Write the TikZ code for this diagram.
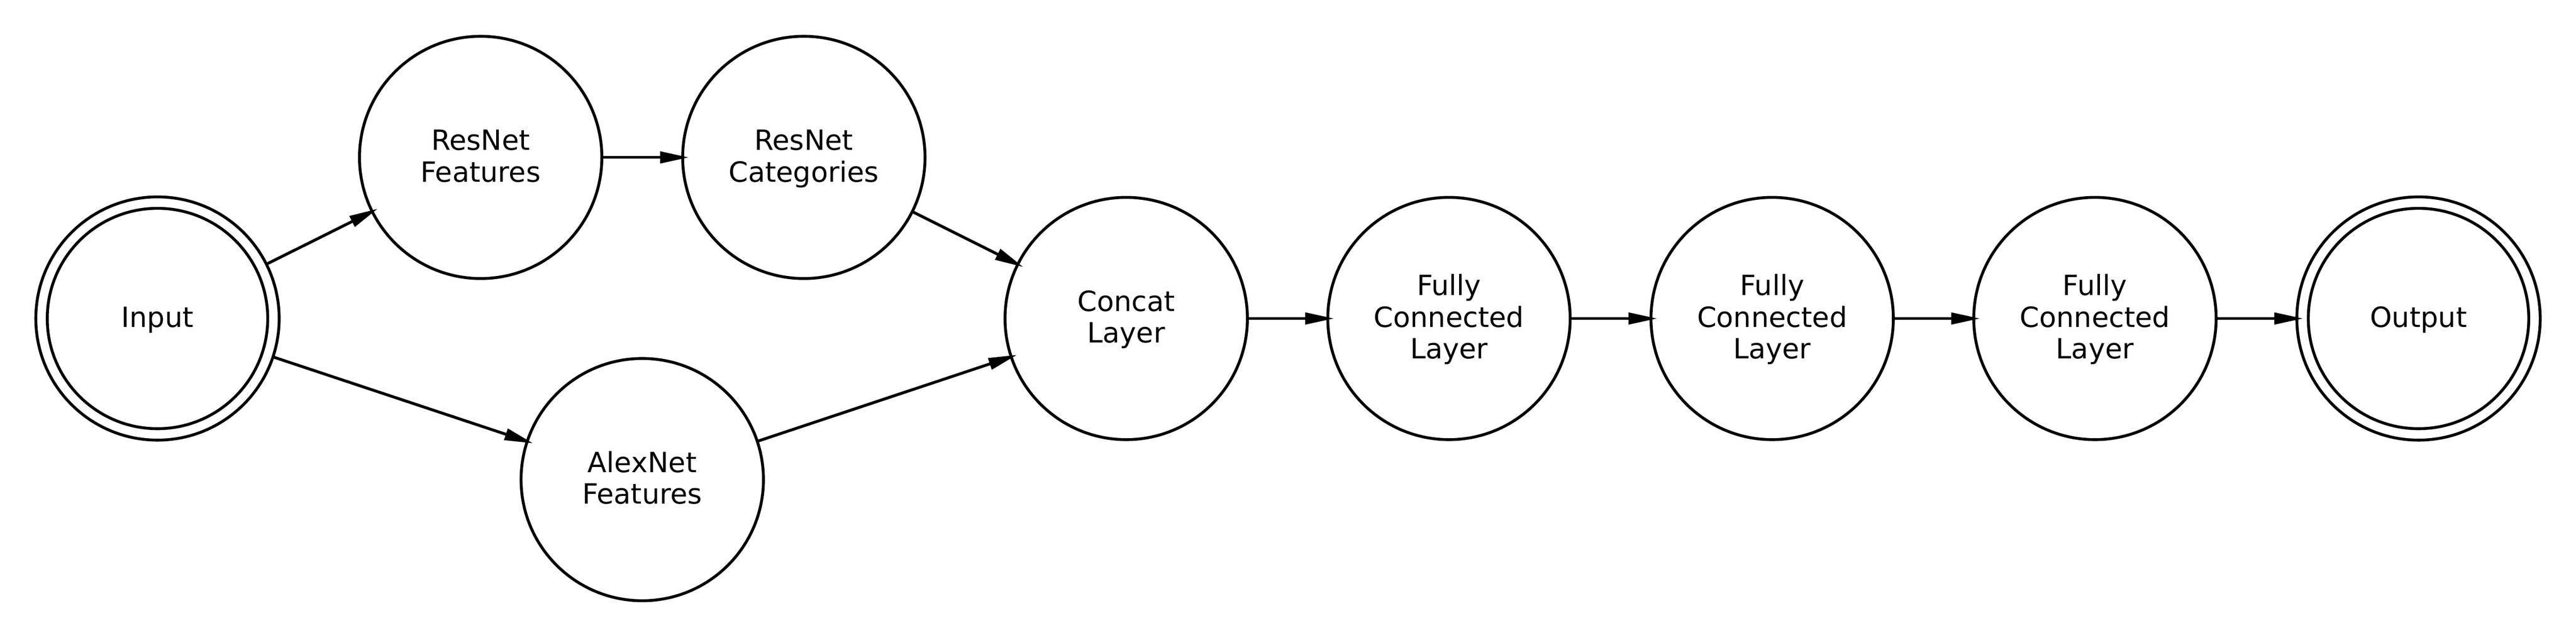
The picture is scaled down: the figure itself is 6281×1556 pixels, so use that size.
\documentclass[tikz,border=0pt]{standalone}
\usepackage{fontspec}
\setmainfont{DejaVu Sans}
\usetikzlibrary{arrows.meta}
\newcommand\gs{\rule[-1.6pt]{0pt}{7.4pt}}
\begin{document}
\begin{tikzpicture}[x=0.1pt,y=-0.1pt,
  nn/.style={circle,draw,line width=0.7pt,minimum size=59.1pt,inner sep=0pt,outer sep=0pt,align=center,font=\fontsize{6.8pt}{7.7pt}\selectfont},
  dn/.style={nn,minimum size=59.34pt},
  inring/.style={draw,line width=0.7pt},
  edge/.style={line width=0.7pt,shorten >=-1.5pt,-{Triangle[length=7pt,width=2.8pt]}}]
\useasboundingbox (0,0) rectangle (6281,1556);
\node[dn] (in) at (384,777) {\gs Input};
\draw[inring] (in.center) circle[radius=26.88pt];
\node[nn] (rf) at (1172,384) {\gs ResNet\\\gs Features};
\node[nn] (rc) at (1960,384) {\gs ResNet\\\gs Categories};
\node[nn] (af) at (1566,1170) {\gs AlexNet\\\gs Features};
\node[nn] (cc) at (2746,777) {\gs Concat\\\gs Layer};
\node[nn] (f1) at (3533,777) {\gs Fully\\\gs Connected\\\gs Layer};
\node[nn] (f2) at (4321,777) {\gs Fully\\\gs Connected\\\gs Layer};
\node[nn] (f3) at (5108,777) {\gs Fully\\\gs Connected\\\gs Layer};
\node[dn] (out) at (5897,777) {\gs Output};
\draw[inring] (out.center) circle[radius=26.88pt];
\draw[edge] (in) -- (rf);
\draw[edge] (in) -- (af);
\draw[edge] (rf) -- (rc);
\draw[edge] (rc) -- (cc);
\draw[edge] (af) -- (cc);
\draw[edge] (cc) -- (f1);
\draw[edge] (f1) -- (f2);
\draw[edge] (f2) -- (f3);
\draw[edge] (f3) -- (out);
\end{tikzpicture}
\end{document}
